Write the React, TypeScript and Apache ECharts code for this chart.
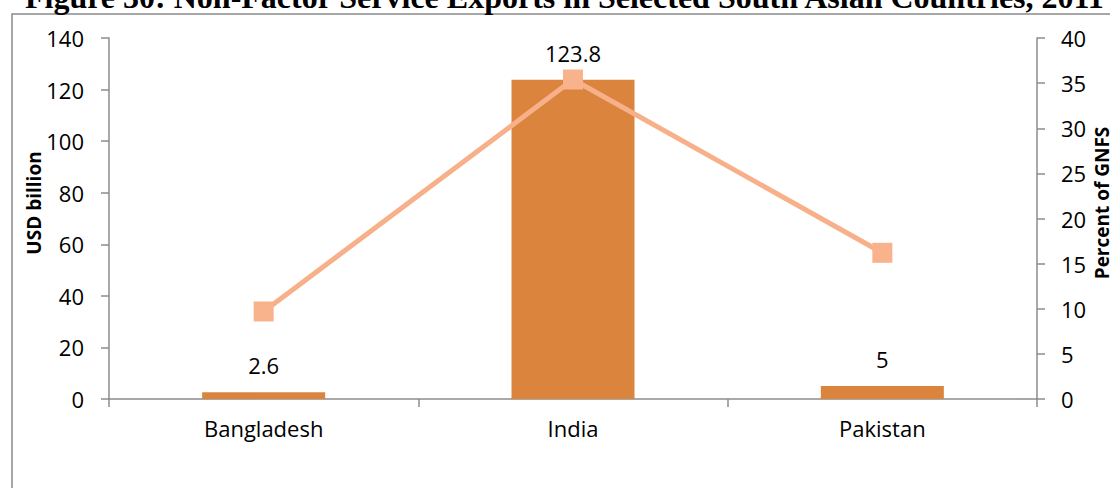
import React, { useEffect, useRef } from "react";
import * as echarts from "echarts";

const categories = ["Bangladesh", "India", "Pakistan"];
const exportsUsdBn = [2.6, 123.8, 5];
const percentOfGnfs = [9.7, 35.4, 16.2];
const leftTicks = { min: 0, max: 140, interval: 20 };
const rightTicks = { min: 0, max: 40, interval: 5 };

const TITLE = "Figure 30: Non-Factor Service Exports in Selected South Asian Countries, 2011";
const LEFT_NAME = "USD billion";
const RIGHT_NAME = "Percent of GNFS";

export default function App() {
  const ref = useRef<HTMLDivElement>(null);
  useEffect(() => {
    if (!ref.current) return;
    const chart = echarts.init(ref.current, undefined, { renderer: "svg" });
    const axisColor = "#8c8c8c";
    const font = "'Open Sans', sans-serif";
    chart.setOption({
      animation: false,
      backgroundColor: "#ffffff",
      grid: { left: 109, right: 73, top: 38, bottom: 89, containLabel: false },
      graphic: [
        {
          type: "rect",
          shape: { x: 12, y: 14, width: 1120, height: 500 },
          style: { fill: "none", stroke: "#8a8a8a", lineWidth: 1.5 },
          silent: true,
        },
        {
          type: "text",
          x: 25,
          y: -3,
          style: {
            text: TITLE,
            font: "bold 32px 'Liberation Serif', 'Times New Roman', serif",
            fill: "#000",
            align: "left",
            verticalAlign: "middle",
          },
        },
        {
          type: "text",
          x: 34,
          y: 203,
          rotation: Math.PI / 2,
          style: {
            text: LEFT_NAME,
            font: "bold 19px 'Open Sans', sans-serif",
            fill: "#000",
            align: "center",
            verticalAlign: "middle",
          },
        },
        {
          type: "text",
          x: 1102,
          y: 203,
          rotation: Math.PI / 2,
          style: {
            text: RIGHT_NAME,
            font: "bold 19px 'Open Sans', sans-serif",
            fill: "#000",
            align: "center",
            verticalAlign: "middle",
          },
        },
      ],
      xAxis: {
        type: "category",
        data: categories,
        boundaryGap: true,
        axisLine: { show: true, lineStyle: { color: axisColor, width: 1.5 } },
        axisTick: { show: true, length: 8, lineStyle: { color: axisColor, width: 1.5 } },
        axisLabel: { color: "#000", fontSize: 22, fontFamily: font, margin: 18 },
        splitLine: { show: false },
      },
      yAxis: [
        {
          type: "value",
          position: "left",
          min: leftTicks.min,
          max: leftTicks.max,
          interval: leftTicks.interval,
          axisLine: { show: true, lineStyle: { color: axisColor, width: 1.5 } },
          axisTick: { show: true, length: 8, lineStyle: { color: axisColor, width: 1.5 } },
          axisLabel: { color: "#000", fontSize: 22, fontFamily: font, margin: 25 },
          splitLine: { show: false },
        },
        {
          type: "value",
          position: "right",
          min: rightTicks.min,
          max: rightTicks.max,
          interval: rightTicks.interval,
          axisLine: { show: true, lineStyle: { color: axisColor, width: 1.5 } },
          axisTick: { show: true, length: 8, lineStyle: { color: axisColor, width: 1.5 } },
          axisLabel: { color: "#000", fontSize: 22, fontFamily: font, margin: 24 },
          splitLine: { show: false },
        },
      ],
      series: [
        {
          name: "USD billion",
          type: "bar",
          data: exportsUsdBn,
          barWidth: 123,
          itemStyle: { color: "#DA843E" },
          label: {
            show: true,
            position: "top",
            distance: 16,
            color: "#000",
            fontSize: 22,
            fontFamily: font,
          },
          z: 2,
        },
        {
          name: "Percent of GNFS",
          type: "line",
          yAxisIndex: 1,
          data: percentOfGnfs,
          symbol: "rect",
          symbolSize: 20,
          lineStyle: { color: "#F7B089", width: 5 },
          itemStyle: { color: "#F8B38D" },
          z: 3,
        },
      ],
    });
    return () => chart.dispose();
  }, []);
  return (
    <div
      ref={ref}
      style={{ position: "fixed", left: 0, top: 0, width: 1110, height: 488 }}
    />
  );
}
